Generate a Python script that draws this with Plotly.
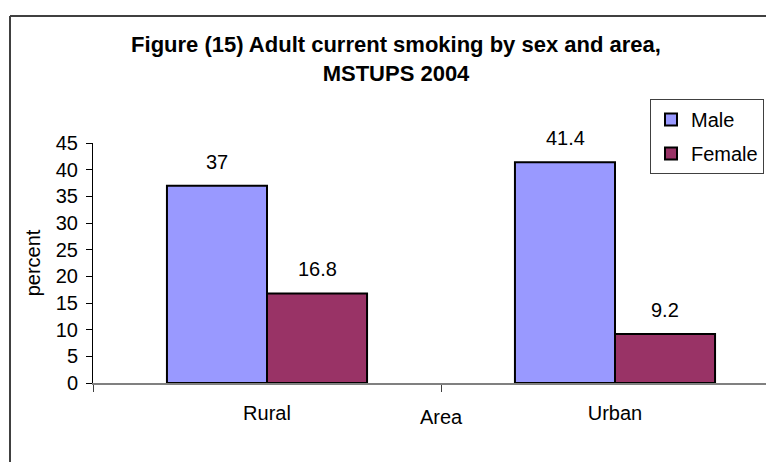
import plotly.graph_objects as go

# data
areas = ["Rural", "Urban"]
male = [37, 41.4]
female = [16.8, 9.2]
y_ticks = [0, 5, 10, 15, 20, 25, 30, 35, 40, 45]

FONT = "Arial, 'Liberation Sans', sans-serif"

# the page body adds an 8px margin, so the figure is laid out 8px smaller
OFF = 8
W, H = 774 - OFF, 462 - OFF
L, R, T, B = 93 - OFF, 0, 143 - OFF, 462 - 383
PW = W - L - R
PH = H - T - B


def px_x(p):
    # page pixel -> paper x
    return (p - OFF - L) / PW


def px_y(q):
    # page pixel -> paper y
    return (H - B - (q - OFF)) / PH


fig = go.Figure()
fig.add_trace(go.Bar(
    name="Male", x=areas, y=male, legendgroup="m",
    marker=dict(color="#9999FF", line=dict(color="#000000", width=2)),
))
fig.add_trace(go.Bar(
    name="Female", x=areas, y=female, legendgroup="f",
    marker=dict(color="#993366", line=dict(color="#000000", width=2)),
))

# value labels above the bars
for vals, shift in ((male, -50), (female, 50)):
    for a, v in zip(areas, vals):
        fig.add_annotation(
            x=a, y=v, text=f"{v:g}", showarrow=False,
            xshift=shift, yshift=24,
            font=dict(family=FONT, size=20, color="#000"),
        )

# x axis title (centred on the full, partly cropped plot area)
fig.add_annotation(
    x=0.5, y=0, xref="x", yref="paper", text="Area", showarrow=False,
    yanchor="middle", yshift=-34,
    font=dict(family=FONT, size=20, color="#000"),
)

# chart frame (right and bottom edges fall outside the picture)
border = dict(color="#404040", width=2)
fig.add_shape(type="line", xref="paper", yref="paper",
              x0=px_x(10), x1=px_x(10), y0=px_y(16), y1=px_y(470), line=border)
fig.add_shape(type="line", xref="paper", yref="paper",
              x0=px_x(10), x1=px_x(790), y0=px_y(16), y1=px_y(16), line=border)

fig.update_layout(
    width=W, height=H,
    margin=dict(l=L, r=R, t=T, b=B, pad=0),
    paper_bgcolor="white", plot_bgcolor="white",
    font=dict(family=FONT, size=20, color="#000"),
    barmode="group", bargap=0.425, bargroupgap=0,
    title=dict(
        text="Figure (15) Adult current smoking by sex and area,<br>MSTUPS 2004",
        x=(396 - OFF) / W, xref="container", xanchor="center",
        y=1 - (52 - OFF) / H, yref="container", yanchor="middle",
        font=dict(family=FONT, size=22, color="#000", weight="bold"),
    ),
    legend=dict(
        x=px_x(650), y=px_y(99), xanchor="left", yanchor="top",
        bgcolor="white", bordercolor="#404040", borderwidth=1,
        font=dict(family=FONT, size=20, color="#000"),
        itemwidth=30, tracegroupgap=5,
    ),
    xaxis=dict(
        type="category", range=[-0.5, (774 - 93) / 348 - 0.5],
        showline=True, linecolor="#808080", linewidth=2,
        ticks="outside", tickson="boundaries", ticklen=7,
        tickcolor="#404040", tickwidth=1,
        showgrid=False, zeroline=False,
        ticklabelstandoff=11,
        tickfont=dict(family=FONT, size=20, color="#000"),
    ),
    yaxis=dict(
        range=[0, 45], tickvals=y_ticks,
        showline=True, linecolor="#000000", linewidth=1,
        ticks="outside", ticklen=6, tickcolor="#000000",
        showgrid=False, zeroline=False,
        ticklabelstandoff=4,
        tickfont=dict(family=FONT, size=20, color="#000"),
        title=dict(text="percent", standoff=9,
                   font=dict(family=FONT, size=20, color="#000")),
    ),
)

fig.write_html("out.html")
